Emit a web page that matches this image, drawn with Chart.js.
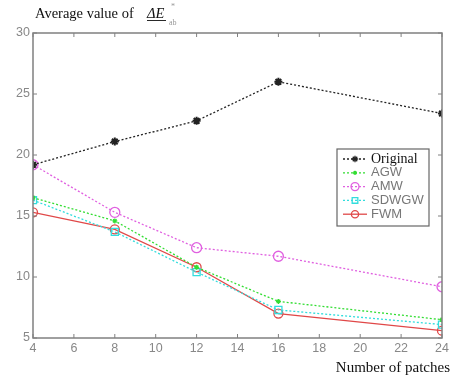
<!DOCTYPE html>
<html>
<head>
<meta charset="utf-8">
<script src="https://cdn.jsdelivr.net/npm/chart.js@4"></script>
<style>
  body { margin: 0; background: #fff; }
  #wrap { width: 452px; height: 375px; }
</style>
</head>
<body>
<div id="wrap"><canvas id="chart" width="452" height="375"></canvas></div>
<script>
const patches = [4, 8, 12, 16, 24];
const original = [19.2, 21.1, 22.8, 26.0, 23.4];
const agw = [16.5, 14.6, 10.8, 8.0, 6.5];
const amw = [19.2, 15.3, 12.4, 11.7, 9.2];
const sdwgw = [16.3, 13.7, 10.4, 7.3, 6.1];
const fwm = [15.3, 13.9, 10.8, 7.0, 5.6];
const xTicks = [4, 6, 8, 10, 12, 14, 16, 18, 20, 22, 24];
const yTicks = [5, 10, 15, 20, 25, 30];

function pts(ys) {
  return ys.map((y, i) => ({ x: patches[i], y: y }));
}

const datasets = [
  { label: "Original", data: pts(original), borderColor: "#222", backgroundColor: "#222",
    borderDash: [2, 2], pointStyle: "star", pointRadius: 4, pointBorderWidth: 2, borderWidth: 1.3 },
  { label: "AGW", data: pts(agw), borderColor: "#33dd33", backgroundColor: "#33dd33",
    borderDash: [2, 2], pointStyle: "star", pointRadius: 2.5, pointBorderWidth: 1.2, borderWidth: 1.3 },
  { label: "AMW", data: pts(amw), borderColor: "#e060e0", backgroundColor: "rgba(0,0,0,0)",
    borderDash: [2, 2], pointStyle: "circle", pointRadius: 5, pointBorderWidth: 1.3, borderWidth: 1.3 },
  { label: "SDWGW", data: pts(sdwgw), borderColor: "#33dddd", backgroundColor: "rgba(0,0,0,0)",
    borderDash: [2, 2], pointStyle: "rect", pointRadius: 5, pointBorderWidth: 1.3, borderWidth: 1.3 },
  { label: "FWM", data: pts(fwm), borderColor: "#e04848", backgroundColor: "rgba(0,0,0,0)",
    pointStyle: "circle", pointRadius: 4.5, pointBorderWidth: 1.3, borderWidth: 1.3 }
];

// box, inward ticks, titles and legend
const decor = {
  id: "decor",
  afterDraw(chart) {
    const ctx = chart.ctx;
    const a = chart.chartArea;
    const xs = chart.scales.x, ys = chart.scales.y;
    ctx.save();
    ctx.strokeStyle = "#808080";
    ctx.lineWidth = 1.5;
    ctx.strokeRect(a.left, a.top, a.right - a.left, a.bottom - a.top);
    ctx.lineWidth = 1;
    ctx.beginPath();
    xTicks.forEach((v) => {
      const px = xs.getPixelForValue(v);
      ctx.moveTo(px, a.bottom); ctx.lineTo(px, a.bottom - 4);
      ctx.moveTo(px, a.top); ctx.lineTo(px, a.top + 4);
    });
    yTicks.forEach((v) => {
      const py = ys.getPixelForValue(v);
      ctx.moveTo(a.left, py); ctx.lineTo(a.left + 4, py);
      ctx.moveTo(a.right, py); ctx.lineTo(a.right - 4, py);
    });
    ctx.stroke();

    // title
    ctx.fillStyle = "#111";
    ctx.textBaseline = "alphabetic";
    ctx.font = "14.5px 'Liberation Serif'";
    ctx.fillText("Average value of", 35, 18);
    ctx.font = "italic 14.5px 'Liberation Serif'";
    ctx.fillText("\u0394E", 147, 18);
    ctx.fillRect(147, 20, 19, 0.9);
    ctx.font = "8px 'Liberation Serif'";
    ctx.fillStyle = "#999";
    ctx.fillText("*", 171, 9);
    ctx.fillText("ab", 169, 25);

    // x axis title
    ctx.fillStyle = "#111";
    ctx.font = "15px 'Liberation Serif'";
    ctx.textAlign = "right";
    ctx.fillText("Number of patches", 450, 372);

    // legend
    const lx = 337, ly = 149, lw = 92, lh = 77;
    ctx.textAlign = "left";
    ctx.fillStyle = "#fff";
    ctx.fillRect(lx, ly, lw, lh);
    ctx.strokeStyle = "#666";
    ctx.lineWidth = 1.2;
    ctx.strokeRect(lx, ly, lw, lh);
    chart.data.datasets.forEach((ds, i) => {
      const y = ly + 10 + i * 13.8;
      ctx.strokeStyle = ds.borderColor;
      ctx.lineWidth = 1.3;
      ctx.setLineDash(ds.borderDash || []);
      ctx.beginPath();
      ctx.moveTo(lx + 6, y); ctx.lineTo(lx + 30, y);
      ctx.stroke();
      ctx.setLineDash([]);
      ctx.fillStyle = ds.backgroundColor;
      Chart.helpers.drawPoint(ctx, {
        pointStyle: ds.pointStyle, radius: ds.pointRadius * 0.8,
        borderWidth: ds.pointBorderWidth, rotation: 0
      }, lx + 18, y);
      ctx.fillStyle = i === 0 ? "#111" : "#777";
      ctx.font = i === 0 ? "14px 'Liberation Serif'" : "13px 'Liberation Sans'";
      ctx.textBaseline = "middle";
      ctx.fillText(ds.label, lx + 34, y);
    });
    ctx.restore();
  }
};

new Chart(document.getElementById("chart"), {
  type: "line",
  data: { datasets: datasets },
  options: {
    responsive: false,
    animation: false,
    layout: { padding: { top: 33, right: 10, left: 0, bottom: 0 } },
    plugins: { legend: { display: false }, tooltip: { enabled: false } },
    scales: {
      x: {
        type: "linear",
        min: 4,
        max: 24,
        afterBuildTicks: (s) => { s.ticks = xTicks.map((v) => ({ value: v })); },
        afterFit: (s) => { s.height = 37; },
        grid: { drawOnChartArea: false, drawTicks: false },
        border: { display: false },
        ticks: { color: "#888", font: { family: "Liberation Sans", size: 12.5 }, padding: 3 }
      },
      y: {
        min: 5,
        max: 30,
        afterBuildTicks: (s) => { s.ticks = yTicks.map((v) => ({ value: v })); },
        afterFit: (s) => { s.width = 33; },
        grid: { drawOnChartArea: false, drawTicks: false },
        border: { display: false },
        ticks: { color: "#888", font: { family: "Liberation Sans", size: 12.5 }, padding: 3 }
      }
    }
  },
  plugins: [decor]
});
</script>
</body>
</html>
